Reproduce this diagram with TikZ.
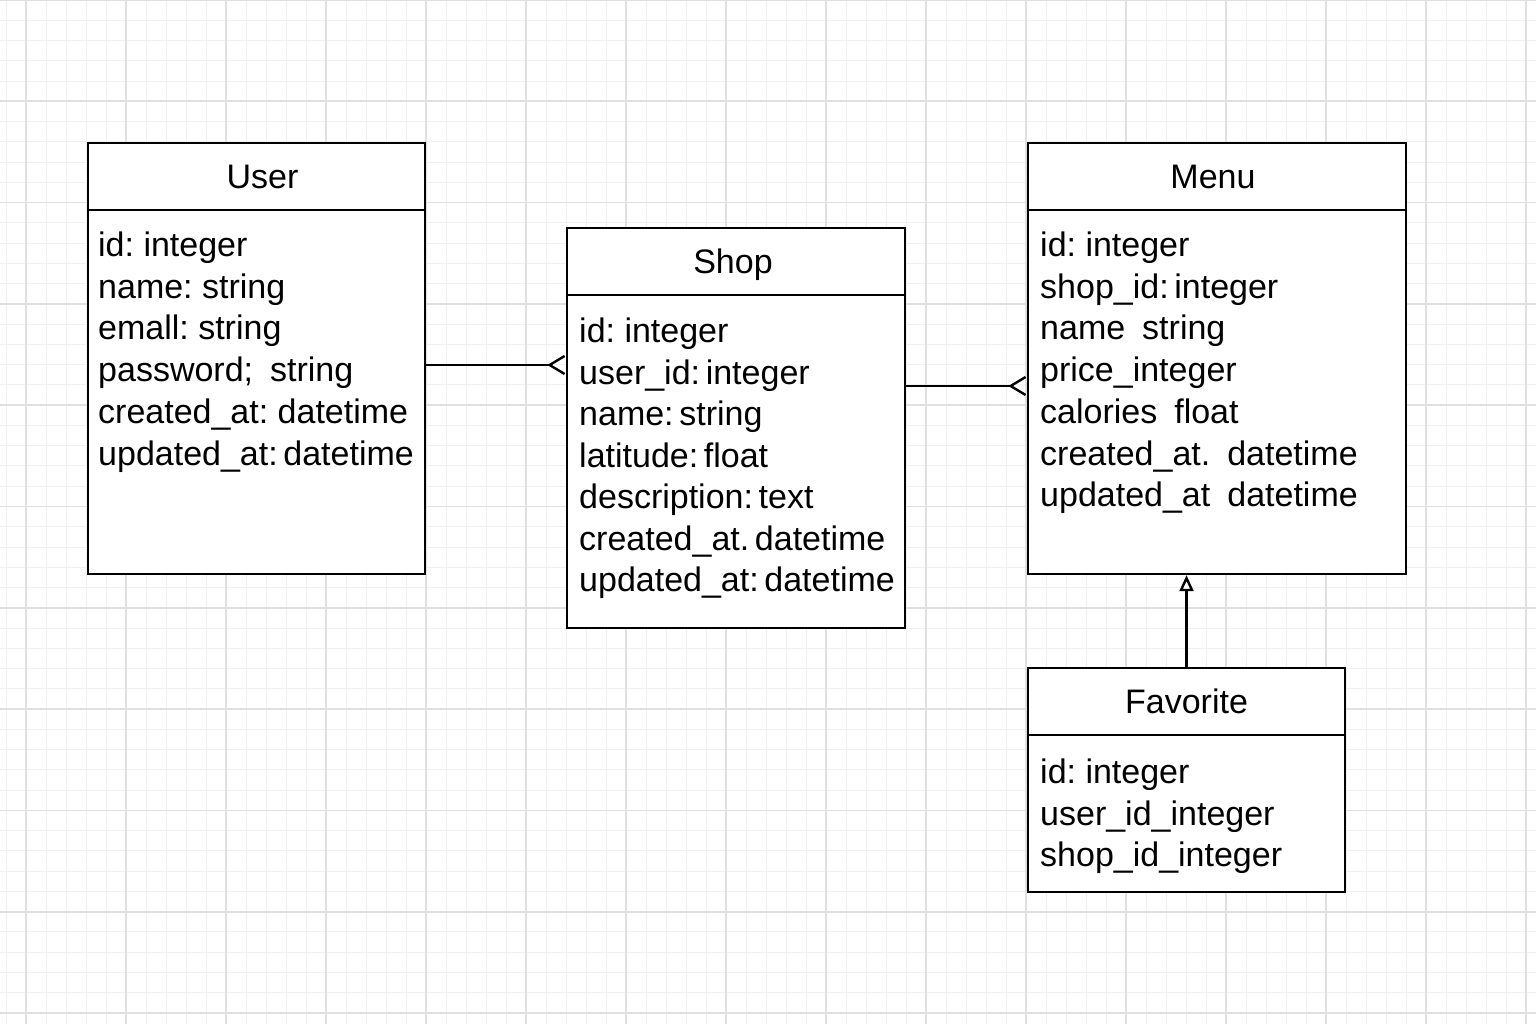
\documentclass[tikz,border=0pt]{standalone}
\usepackage{fontspec}
\setmainfont{Liberation Sans}
\frenchspacing
\usetikzlibrary{arrows.meta,positioning}

\tikzset{
  minor/.style={line width=1pt, black!6},
  major/.style={line width=1.6pt, black!12},
  table/.style={draw, line width=2.4pt, fill=white, inner sep=0pt},
  title/.style={font=\fontsize{34}{40}\selectfont, inner sep=0pt, text height=24pt, text depth=7pt},
  field/.style={anchor=west, font=\fontsize{34}{40}\selectfont, inner sep=0pt, text height=24pt, text depth=7pt},
  link/.style={line width=2.2pt},
  many/.style={link, -{Straight Barb[reversed, length=15pt, width=18pt, line width=2.4pt]}},
  isa/.style={link, -{Triangle[open, length=16pt, width=14pt, fill=white, line width=2.4pt]}}
}

\begin{document}
\begin{tikzpicture}[x=1pt, y=-1pt]
    \useasboundingbox (0,0) rectangle (1536,1024);
    % grid paper
    \fill[white] (0,0) rectangle (1536,1024);
    \foreach \x in {6,26,...,1526} \draw[minor] (\x,0) -- (\x,1024);
    \foreach \k in {0,...,50} \draw[minor] (0,{\k*20.26}) -- (1536,{\k*20.26});
    \foreach \x in {26,126,...,1526} \draw[major] (\x,0) -- (\x,1024);
    \foreach \k in {0,...,10} \draw[major] (0,{\k*101.3}) -- (1536,{\k*101.3});

    % tables
    \node[table, minimum width=337pt, minimum height=431pt] (user) at (256.5,358.5) {};
    \node[table, minimum width=338pt, minimum height=400pt] (shop) at (736,428) {};
    \node[table, minimum width=378pt, minimum height=431pt] (menu) at (1217,358.5) {};
    \node[table, minimum width=317pt, minimum height=224pt] (fav) at (1186.5,780) {};

    \foreach \t in {user,shop,menu,fav}
        \draw[link] ([yshift=-68pt]\t.north west) -- ([yshift=-68pt]\t.north east);

    \node[title] (user-title) at ([xshift=6pt,yshift=-38pt]user.north) {User};
    \node[title] (shop-title) at ([xshift=-3pt,yshift=-38pt]shop.north) {Shop};
    \node[title] (menu-title) at ([xshift=-4pt,yshift=-38pt]menu.north) {Menu};
    \node[title] (fav-title) at ([yshift=-38pt]fav.north) {Favorite};

    \foreach \t [count=\i from 0] in {id: integer, name: string, emall: string, password;\enspace string, created\_at: datetime, updated\_at:\,datetime}
        \node[field] (user-\i) at (98,{248+41.7*\i}) {\t};
    \foreach \t [count=\i from 0] in {id: integer, user\_id:\,integer, name:\,string, latitude:\,float, description:\,text, created\_at.\,datetime, updated\_at:\,datetime}
        \node[field] (shop-\i) at (579,{334+41.5*\i}) {\t};
    \foreach \t [count=\i from 0] in {id: integer, shop\_id:\,integer, name\enspace string, price\_integer, calories\enspace float, created\_at.\enspace datetime, updated\_at\enspace datetime}
        \node[field] (menu-\i) at (1040,{248+41.7*\i}) {\t};
    \foreach \t [count=\i from 0] in {id: integer, user\_id\_integer, shop\_id\_integer}
        \node[field] (fav-\i) at (1040,{775+41.7*\i}) {\t};

    % relations
    \coordinate (row1) at (0,365);
    \coordinate (row2) at (0,386);
    \draw[many] (user.east |- row1) -- (shop.west |- row1);
    \draw[many] (shop.east |- row2) -- (menu.west |- row2);
    \draw[isa] (fav.north) -- (menu.south -| fav.north);
\end{tikzpicture}
\end{document}
